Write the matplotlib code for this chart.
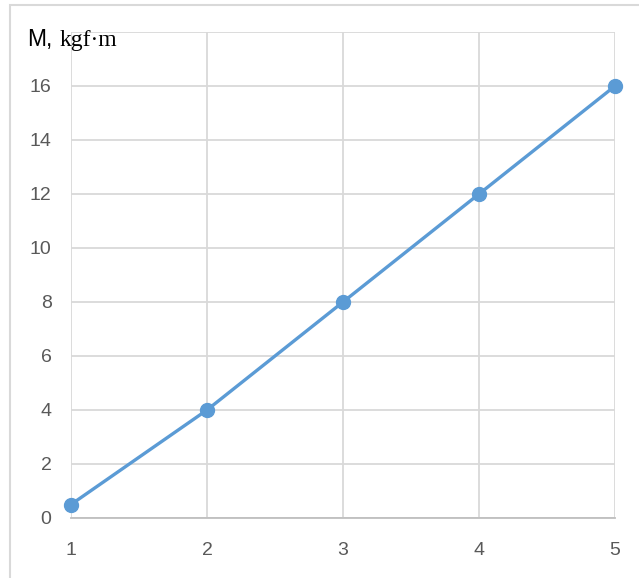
import matplotlib
matplotlib.use("Agg")
import matplotlib.pyplot as plt
from matplotlib.patches import Rectangle

x_vals = [1, 2, 3, 4, 5]
m_vals = [0.5, 4, 8, 12, 16]
y_ticks = [0, 2, 4, 6, 8, 10, 12, 14, 16]
x_ticks = [1, 2, 3, 4, 5]

W, H = 639, 578
fig = plt.figure(figsize=(W / 100, H / 100), dpi=100)

# outer chart border
fig.patches.append(Rectangle((9.5 / W, -0.01), (W + 10) / W, (H - 4.5) / H + 0.01,
                             transform=fig.transFigure, fill=False,
                             edgecolor="#d9d9d9", linewidth=1.5))

ax = fig.add_axes([71 / W, (H - 518) / H, (615 - 71) / W, (518 - 32) / H])
ax.set_xlim(1, 5)
ax.set_ylim(0, 18)
ax.set_yticks(y_ticks + [18])
ax.set_yticklabels([str(v) for v in y_ticks] + [""])
ax.set_xticks(x_ticks)
ax.set_xticklabels([str(v) for v in x_ticks])
ax.grid(True, color="#d9d9d9", linewidth=1.3)
ax.set_axisbelow(True)
for s in ["top", "right", "left"]:
    ax.spines[s].set_visible(False)
ax.spines["bottom"].set_color("#bfbfbf")
ax.spines["bottom"].set_linewidth(1.3)
ax.tick_params(length=0, labelsize=14, labelcolor="#595959")
ax.tick_params(axis="y", pad=14)
ax.tick_params(axis="x", pad=17.5)
for lab in ax.get_xticklabels() + ax.get_yticklabels():
    lab.set_family("Liberation Sans")

ax.plot(x_vals, m_vals, color="#5b9bd5", linewidth=2.4, marker="o",
        markersize=10, markerfacecolor="#5b9bd5", markeredgecolor="#5b9bd5",
        clip_on=False, zorder=3)

fig.text(27 / W, 1 - 46 / H, "M,", fontsize=16.5, family="Liberation Sans",
         color="black", ha="left", va="baseline")
fig.text(60 / W, 1 - 46 / H, "kgf·m", fontsize=17, family="Liberation Serif",
         color="black", ha="left", va="baseline")

fig.savefig("out.png", dpi=100, facecolor="white")
